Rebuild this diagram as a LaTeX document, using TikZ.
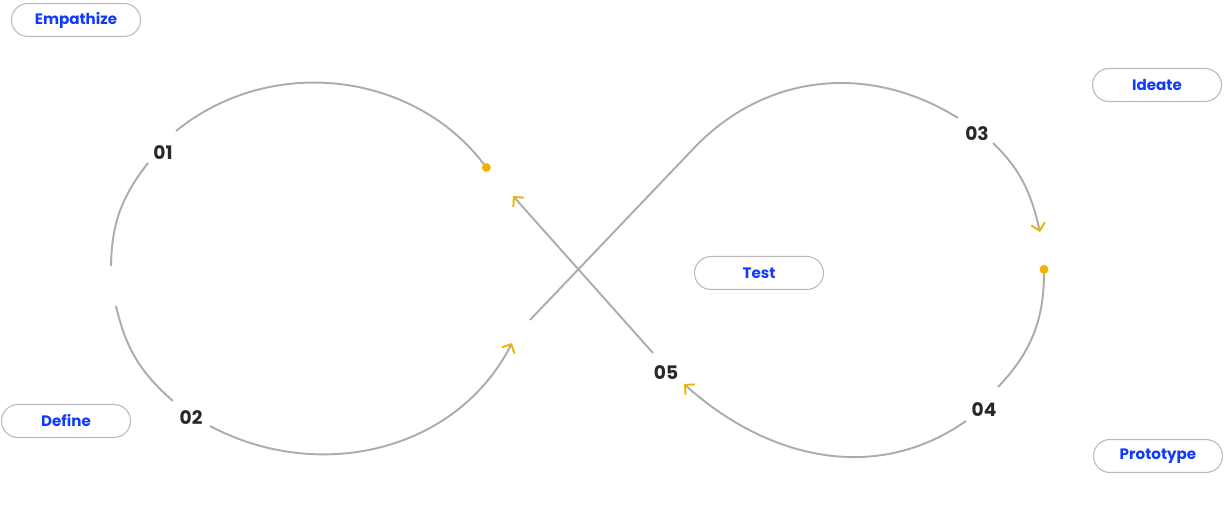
\documentclass[tikz,border=0pt]{standalone}
\usepackage{fontspec}
\setmainfont{Poppins}
\usetikzlibrary{arrows.meta}

\definecolor{linegray}{RGB}{172,172,172}
\definecolor{pillgray}{RGB}{185,185,185}
\definecolor{stageblue}{RGB}{18,58,250}
\definecolor{numdark}{RGB}{40,40,40}
\definecolor{tipamber}{RGB}{240,180,0}

\begin{document}
\begin{tikzpicture}
[
    x=0.02cm, y=0.02cm,
    % All coordinates are image pixels, y points down (hence the minus signs)
    % Pills are named P-<stage>, step numbers N-1 ... N-5
]

%=================================== Start ===================================
\tikzstyle{pill} = [draw=pillgray, line width=0.6pt, rounded corners=0.33cm,
    minimum width=2.58cm, minimum height=0.66cm, inner sep=0pt,
    font=\fontsize{8.6}{10}\selectfont\bfseries, text=stageblue]
\tikzstyle{num}  = [inner sep=0pt, font=\fontsize{10.6}{12}\selectfont\bfseries, text=numdark]
\tikzstyle{loop} = [draw=linegray, line width=1.1pt]
\tikzstyle{head} = [loop, -{Straight Barb[color=tipamber, length=4pt, width=8pt, line width=1.1pt]}]
\tikzstyle{tail} = [loop, {Circle[color=tipamber, length=5pt]}-]

\useasboundingbox (0,0) rectangle (1225,-513);

{
    % Stage pills
    \foreach \name / \x / \y / \txt in {empathize/76/20/Empathize, ideate/1157/85/Ideate,
            test/759/273/Test, define/66/421/Define, prototype/1158/456/Prototype}
        \node[pill] (P-\name) at (\x,-\y) {\txt};

    % Step numbers
    \foreach \i / \x / \y in {1/163/153, 2/191/418, 3/977/134, 4/984/410, 5/666/373}
        \node[num] (N-\i) at (\x,-\y) {0\i};

    % Ends of the loop pieces (gaps are left round the numbers)
    \coordinate (A-dot) at (489,-171);
    \coordinate (A-1)   at (176,-131);
    \coordinate (A-2)   at (148,-163);
    \coordinate (A-3)   at (111,-266);
    \coordinate (B-1)   at (116,-306);
    \coordinate (B-2)   at (173,-401);
    \coordinate (B-3)   at (210,-426);
    \coordinate (B-tip) at (512,-343);
    \coordinate (C-1)   at (530,-320);
    \coordinate (C-bend) at (695,-147);
    \coordinate (C-2)   at (958,-118);
    \coordinate (C-3)   at (993,-143);
    \coordinate (C-tip) at (1040,-232);
    \coordinate (D-dot) at (1044,-265);
    \coordinate (D-1)   at (998,-387);
    \coordinate (D-2)   at (966,-421);
    \coordinate (D-tip) at (684,-384);
    \coordinate (E-1)   at (653,-353);
    \coordinate (E-tip) at (513,-196);

    % Left loop
    \draw[tail] (A-dot) to[out=127, in=39] (A-1);
    \draw[loop] (A-2) to[out=232, in=89] (A-3);
    \draw[loop] (B-1) to[out=283, in=139] (B-2);
    \draw[head] (B-3) to[out=332, in=243] (B-tip);

    % Crossing and right loop
    \draw[loop] (C-1) -- (C-bend) to[out=46, in=148] (C-2);
    \draw[head] (C-3) to[out=-44, in=103] (C-tip);
    \draw[tail] (D-dot) to[out=270, in=46] (D-1);
    \draw[head] (D-2) to[out=215, in=-42] (D-tip);
    \draw[head] (E-1) -- (E-tip);
}
%==================================== END ====================================

\end{tikzpicture}
\end{document}
